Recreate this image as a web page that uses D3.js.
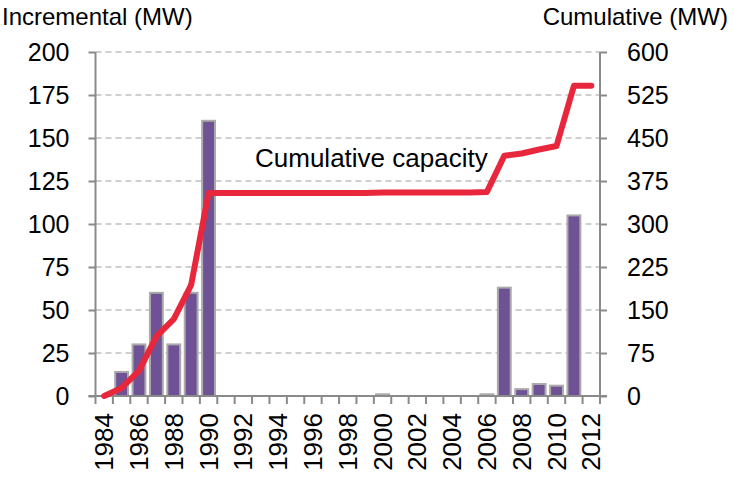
<!DOCTYPE html>
<html>
<head>
<meta charset="utf-8">
<script src="https://cdn.jsdelivr.net/npm/d3@7"></script>
<style>
  body { margin: 0; background: #fff; }
  text { font-family: "Liberation Sans", Arial, sans-serif; fill: #000; }
</style>
</head>
<body>
<svg id="chart" width="734" height="481"></svg>
<script>
// data
var years = d3.range(1984, 2013).map(String);
var incremental = [0, 14, 30, 60, 30, 60, 160, 0, 0, 0, 0, 0, 0, 0, 0, 0, 1, 0, 0, 0, 0, 0, 1, 63, 4, 7, 6, 105, 0];
var cumulative = [0, 14, 44, 104, 134, 194, 354, 354, 354, 354, 354, 354, 354, 354, 354, 354, 355, 355, 355, 355, 355, 355, 356, 419, 423, 430, 436, 541, 541];
var leftTicks = [0, 25, 50, 75, 100, 125, 150, 175, 200];
var rightTicks = [0, 75, 150, 225, 300, 375, 450, 525, 600];
var xLabels = years.filter(function (d, i) { return i % 2 == 0 });

var svg = d3.select("#chart");
var plotL = 95.5, plotR = 600, plotT = 52, plotB = 396;

// scales
var x = d3.scaleBand().domain(years).range([plotL, plotR]).paddingInner(0.26).paddingOuter(0.13);
var xEdge = d3.scaleLinear().domain([0, years.length]).range([plotL, plotR]);
var yL = d3.scaleLinear().domain([0, 200]).range([plotB, plotT]);
var yR = d3.scaleLinear().domain([0, 600]).range([plotB, plotT]);

// gridlines
svg.append("g")
  .selectAll("line")
  .data(leftTicks.slice(1))
  .enter()
  .append("line")
  .attr("x1", plotL).attr("x2", plotR)
  .attr("y1", function (d) { return yL(d) })
  .attr("y2", function (d) { return yL(d) })
  .attr("stroke", "#c0c0c0")
  .attr("stroke-width", 1.5)
  .attr("stroke-dasharray", "6,4");

// bars
svg.append("g")
  .selectAll("rect")
  .data(incremental)
  .enter()
  .append("rect")
  .attr("x", function (d, i) { return x(years[i]) })
  .attr("y", function (d) { return yL(d) })
  .attr("width", x.bandwidth())
  .attr("height", function (d) { return plotB - yL(d) })
  .attr("fill", "#6f5296")
  .attr("stroke", "#ababab")
  .attr("stroke-width", 2);

// axis lines and ticks
var axisColor = "#8a8a8a";
var leftAxis = d3.axisLeft(yL).tickValues(leftTicks).tickSize(7).tickPadding(19);
var rightAxis = d3.axisRight(yR).tickValues(rightTicks).tickSize(7).tickPadding(20);

var gl = svg.append("g").attr("transform", "translate(" + plotL + ",0)").call(leftAxis);
var gr = svg.append("g").attr("transform", "translate(" + plotR + ",0)").call(rightAxis);
[gl, gr].forEach(function (g) {
  g.select(".domain").attr("stroke", axisColor).attr("stroke-width", 2).attr("d",
    "M0," + plotT + "V" + plotB);
  g.selectAll(".tick line").attr("stroke", axisColor).attr("stroke-width", 2);
  g.selectAll(".tick text").style("font-size", "25px").style("font-family", "Liberation Sans, Arial, sans-serif").attr("fill", "#000");
});

// x axis
svg.append("line")
  .attr("x1", plotL - 7).attr("x2", plotR + 7)
  .attr("y1", plotB).attr("y2", plotB)
  .attr("stroke", axisColor).attr("stroke-width", 2);

svg.append("g")
  .selectAll("line")
  .data(d3.range(years.length + 1))
  .enter()
  .append("line")
  .attr("x1", function (d) { return xEdge(d) })
  .attr("x2", function (d) { return xEdge(d) })
  .attr("y1", plotB).attr("y2", plotB + 8)
  .attr("stroke", axisColor).attr("stroke-width", 2);

svg.append("g")
  .selectAll("text")
  .data(xLabels)
  .enter()
  .append("text")
  .attr("transform", function (d) {
    return "translate(" + (x(d) + x.bandwidth() / 2 + 9) + ",413) rotate(-90)"
  })
  .attr("text-anchor", "end")
  .style("font-size", "26px")
  .text(function (d) { return d });

// cumulative line
var line = d3.line()
  .x(function (d, i) { return x(years[i]) + x.bandwidth() / 2 })
  .y(function (d) { return yR(d) });

svg.append("path")
  .datum(cumulative)
  .attr("d", line)
  .attr("fill", "none")
  .attr("stroke", "#e8273d")
  .attr("stroke-width", 6)
  .attr("stroke-linejoin", "round")
  .attr("stroke-linecap", "round");

// titles
svg.append("text").attr("x", 2).attr("y", 25).style("font-size", "24px").text("Incremental (MW)");
svg.append("text").attr("x", 728).attr("y", 25).attr("text-anchor", "end").style("font-size", "24px").text("Cumulative (MW)");
svg.append("text").attr("x", 255).attr("y", 167).style("font-size", "26px").text("Cumulative capacity");
</script>
</body>
</html>
